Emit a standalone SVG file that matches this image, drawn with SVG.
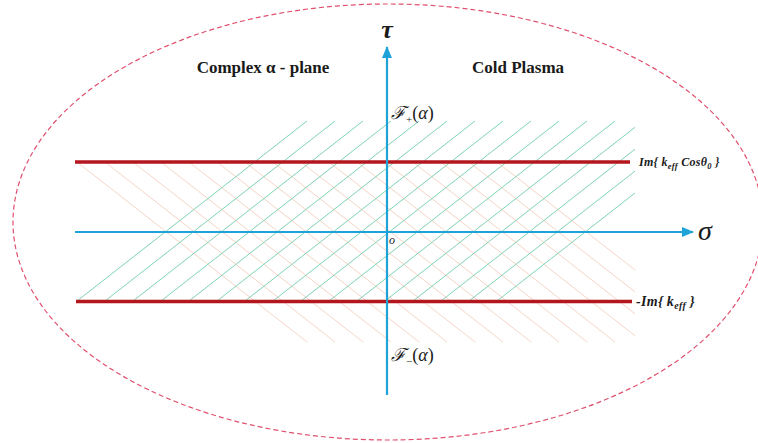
<svg xmlns="http://www.w3.org/2000/svg" width="758" height="443" viewBox="0 0 758 443">
<style>
.serif{font-family:"Liberation Serif","DejaVu Serif",serif;fill:#1a1a1a}
.b{font-weight:bold}
.i{font-style:italic}
.green line{stroke:#7fd2b3;stroke-width:1}
.pink line{stroke:#f5d4c8;stroke-width:1}
.red{stroke:#b3161c;stroke-width:3.5}
.axis{stroke:#1ea3d9;stroke-width:2.2}
</style>
<defs>
<marker id="arr" viewBox="0 0 12 10" refX="11" refY="5" markerWidth="12" markerHeight="10" markerUnits="userSpaceOnUse" orient="auto">
<path d="M0,0 L12,5 L0,10 Z" fill="#1ea3d9"/>
</marker>
</defs>
<rect width="758" height="443" fill="#ffffff"/>
<ellipse id="boundary" cx="388" cy="222" rx="375" ry="218" fill="none" stroke="#e0506e" stroke-width="1.2" stroke-dasharray="5,3"/>
<g id="pink-hatch" class="pink">
<line x1="77" y1="162" x2="307" y2="342"/>
<line x1="105" y1="162" x2="335" y2="342"/>
<line x1="133" y1="162" x2="363" y2="342"/>
<line x1="161" y1="162" x2="391" y2="342"/>
<line x1="189" y1="162" x2="419" y2="342"/>
<line x1="217" y1="162" x2="447" y2="342"/>
<line x1="245" y1="162" x2="475" y2="342"/>
<line x1="273" y1="162" x2="503" y2="342"/>
<line x1="301" y1="162" x2="531" y2="342"/>
<line x1="329" y1="162" x2="559" y2="342"/>
<line x1="357" y1="162" x2="587" y2="342"/>
<line x1="385" y1="162" x2="615" y2="342"/>
<line x1="413" y1="162" x2="635" y2="335.7"/>
<line x1="441" y1="162" x2="635" y2="313.8"/>
<line x1="469" y1="162" x2="635" y2="291.9"/>
<line x1="497" y1="162" x2="635" y2="270"/>
</g>
<g id="green-hatch" class="green">
<line x1="77" y1="301" x2="307" y2="121"/>
<line x1="105" y1="301" x2="335" y2="121"/>
<line x1="133" y1="301" x2="363" y2="121"/>
<line x1="161" y1="301" x2="391" y2="121"/>
<line x1="189" y1="301" x2="419" y2="121"/>
<line x1="217" y1="301" x2="447" y2="121"/>
<line x1="245" y1="301" x2="475" y2="121"/>
<line x1="273" y1="301" x2="503" y2="121"/>
<line x1="301" y1="301" x2="531" y2="121"/>
<line x1="329" y1="301" x2="559" y2="121"/>
<line x1="357" y1="301" x2="587" y2="121"/>
<line x1="385" y1="301" x2="615" y2="121"/>
<line x1="413" y1="301" x2="635" y2="127.3"/>
<line x1="441" y1="301" x2="635" y2="149.2"/>
<line x1="469" y1="301" x2="635" y2="171.1"/>
<line x1="497" y1="301" x2="635" y2="193"/>
</g>
<g id="connectors">
<line id="upper-bound" class="red" x1="75" y1="162" x2="630" y2="162"/>
<line id="lower-bound" class="red" x1="76" y1="301.5" x2="632" y2="301.5"/>
<line id="sigma-axis" class="axis" x1="75" y1="232" x2="693" y2="232" marker-end="url(#arr)"/>
<line id="tau-axis" class="axis" x1="387" y1="395" x2="387" y2="47" marker-end="url(#arr)"/>
</g>
<g id="labels">
<text class="serif b i" x="387" y="38" font-size="26" text-anchor="middle">τ</text>
<text class="serif i" x="698" y="240" font-size="28">σ</text>
<text class="serif b" x="263" y="73" font-size="17" text-anchor="middle">Complex α - plane</text>
<text class="serif b" x="518" y="73" font-size="17" text-anchor="middle">Cold Plasma</text>
<text class="serif i" x="389" y="244" font-size="12">o</text>
<text class="serif" x="391" y="119" font-size="18"><tspan font-family="DejaVu Serif" font-style="italic">ℱ</tspan><tspan font-size="11" dy="4">+</tspan><tspan dy="-4">(</tspan><tspan font-style="italic">α</tspan>)</text>
<text class="serif" x="391" y="361" font-size="18"><tspan font-family="DejaVu Serif" font-style="italic">ℱ</tspan><tspan font-size="11" dy="4">−</tspan><tspan dy="-4">(</tspan><tspan font-style="italic">α</tspan>)</text>
<text class="serif b i" x="639" y="166" font-size="12" letter-spacing="0.3">Im{ k<tspan font-size="8.5" dy="2.5">eff</tspan><tspan dy="-2.5"> Cosθ</tspan><tspan font-size="8.5" dy="2.5">0</tspan><tspan dy="-2.5"> }</tspan></text>
<text class="serif b i" x="636" y="306" font-size="14" letter-spacing="0.3">-Im{ k<tspan font-size="10" dy="3">eff</tspan><tspan dy="-3"> }</tspan></text>
</g>
</svg>
